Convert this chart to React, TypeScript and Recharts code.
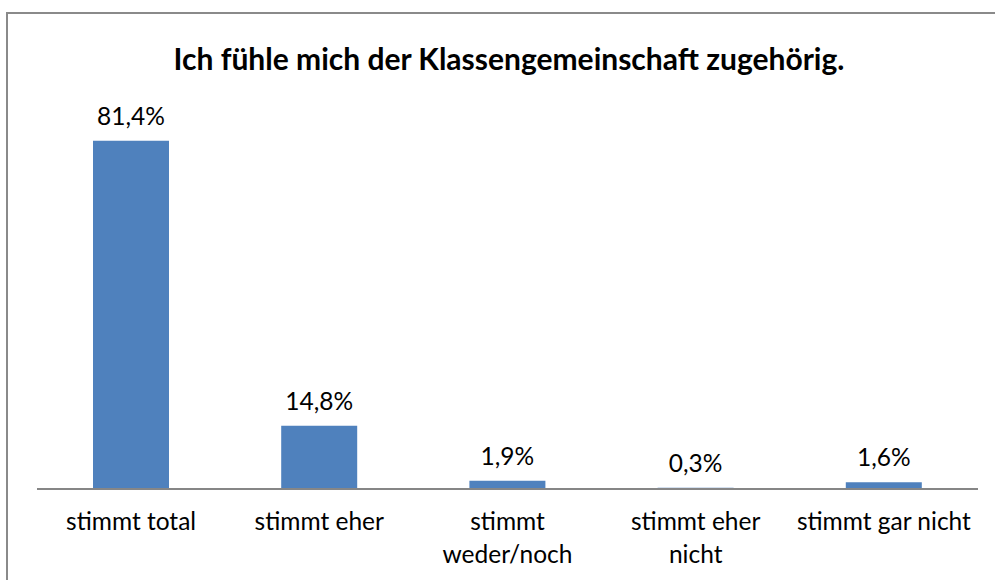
import React from 'react';
import { BarChart, Bar, XAxis, YAxis, LabelList } from 'recharts';

const kategorien = ['stimmt total', 'stimmt eher', 'stimmt\nweder/noch', 'stimmt eher\nnicht', 'stimmt gar nicht'];
const anteile = [81.4, 14.8, 1.9, 0.3, 1.6];
const titel = 'Ich fühle mich der Klassengemeinschaft zugehörig.';

const data = kategorien.map((k, i) => ({ kategorie: k, anteil: anteile[i] }));

const FONT = 'Lato, "Open Sans", sans-serif';

const formatProzent = (v: any) => `${Number(v).toFixed(1).replace('.', ',')}%`;

const KategorieTick = (props: any) => {
  const { x, y, payload } = props;
  const zeilen = String(payload.value).split('\n');
  return (
    <text x={x} y={y} textAnchor="middle" fill="#000" fontSize={24.5} fontFamily={FONT}>
      {zeilen.map((z, i) => (
        <tspan key={i} x={x} dy={33}>
          {z}
        </tspan>
      ))}
    </text>
  );
};

const App: React.FC = () => {
  return (
    <>
      <style>{'body { margin: 0; }'}</style>
      <div style={{ position: 'relative', width: 995, height: 580, overflow: 'hidden', background: '#fff' }}>
        {/* Rahmen: nur links und oben sichtbar */}
        <div style={{ position: 'absolute', left: 6, top: 12, width: 2, height: 580, background: '#8a8a8a' }} />
        <div style={{ position: 'absolute', left: 6, top: 12, width: 995, height: 2, background: '#8a8a8a' }} />
        <div
          style={{
            position: 'absolute',
            left: 0,
            top: 40,
            width: 1018,
            textAlign: 'center',
            fontFamily: FONT,
            fontWeight: 'bold',
            fontSize: 30,
            color: '#000',
          }}
        >
          {titel}
        </div>
        <div style={{ position: 'absolute', left: 0, top: 0 }}>
          <BarChart width={995} height={580} data={data} margin={{ top: 104, right: 17, bottom: 0, left: 37 }} barSize={76}>
            <XAxis
              dataKey="kategorie"
              height={91}
              axisLine={{ stroke: '#868686', strokeWidth: 2 }}
              tickLine={false}
              interval={0}
              tick={<KategorieTick />}
            />
            <YAxis hide domain={[0, 90]} />
            <Bar dataKey="anteil" fill="#4F81BD" isAnimationActive={false}>
              <LabelList
                dataKey="anteil"
                position="top"
                offset={16}
                formatter={formatProzent}
                style={{ fontFamily: FONT, fontSize: 24.5, fill: '#000' }}
              />
            </Bar>
          </BarChart>
        </div>
      </div>
    </>
  );
};

export default App;
